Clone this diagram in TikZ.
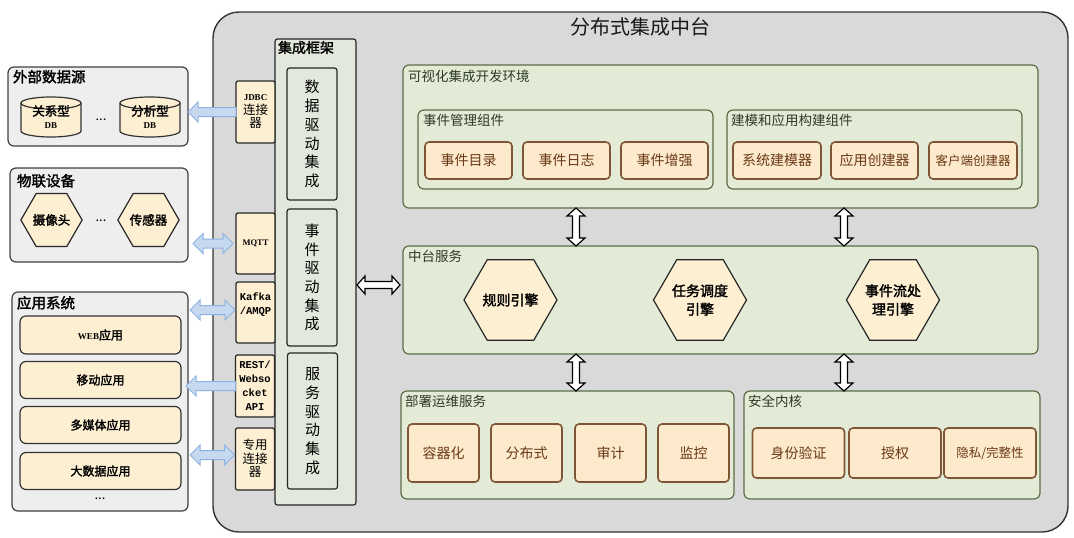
\documentclass[tikz,border=0pt]{standalone}
\usepackage{fontspec}
\setmainfont{Noto Sans CJK SC}[AutoFakeBold=2]
\newfontfamily\monof{Liberation Mono}
\newfontfamily\seriff{Liberation Serif}
\usetikzlibrary{shapes.geometric,calc}

\definecolor{mainbg}{HTML}{D9D9D9}
\definecolor{grpbg}{HTML}{EEEEEE}
\definecolor{framebg}{HTML}{E3E8DC}
\definecolor{greenbg}{HTML}{E3EBD7}
\definecolor{greenln}{HTML}{5B6E48}
\definecolor{greentx}{HTML}{2E3B22}
\definecolor{tanbg}{HTML}{FDEFD2}
\definecolor{peachbg}{HTML}{FDE9CB}
\definecolor{brownln}{HTML}{7E5636}
\definecolor{browntx}{HTML}{6A3A18}
\definecolor{bluebg}{HTML}{C6D9F0}
\definecolor{blueln}{HTML}{8DB3E2}

% block arrow: #1 style, #2 from, #3 to, #4 = 1 double / 0 single (head at #3)
\newcommand\barrow[4]{%
  \path let \p1=(#2), \p2=(#3) in \pgfextra{%
    \pgfmathsetmacro\barlen{veclen(\x2-\x1,\y2-\y1)}%
    \pgfmathsetmacro\barang{atan2(\y2-\y1,\x2-\x1)}%
    \xdef\barlen{\barlen}\xdef\barang{\barang}%
    \xdef\barx{\x1}\xdef\bary{\y1}};
  \ifnum#4=1
    \draw[#1, shift={(\barx,\bary)}, rotate=\barang]
      (0pt,0pt) -- (\arrhl pt,\arrhw pt) -- (\arrhl pt,\arrsh pt)
      -- (\barlen pt-\arrhl pt,\arrsh pt) -- (\barlen pt-\arrhl pt,\arrhw pt)
      -- (\barlen pt,0pt) -- (\barlen pt-\arrhl pt,-\arrhw pt)
      -- (\barlen pt-\arrhl pt,-\arrsh pt) -- (\arrhl pt,-\arrsh pt)
      -- (\arrhl pt,-\arrhw pt) -- cycle;
  \else
    \draw[#1, shift={(\barx,\bary)}, rotate=\barang]
      (0pt,\arrsh pt) -- (\barlen pt-\arrhl pt,\arrsh pt)
      -- (\barlen pt-\arrhl pt,\arrhw pt) -- (\barlen pt,0pt)
      -- (\barlen pt-\arrhl pt,-\arrhw pt) -- (\barlen pt-\arrhl pt,-\arrsh pt)
      -- (0pt,-\arrsh pt) -- cycle;
  \fi}

\tikzset{
  mainbox/.style={draw=black!80, fill=mainbg, line width=1.4pt, rounded corners=26pt},
  grpbox/.style={draw=black!75, fill=grpbg, line width=1.2pt, rounded corners=6pt},
  framebox/.style={draw=black!85, fill=framebg, line width=1.2pt, rounded corners=2.5pt},
  connbox/.style={draw=black!85, fill=tanbg, line width=1.2pt, rounded corners=2pt},
  tanbox/.style={draw=black!80, fill=tanbg, line width=1.2pt, rounded corners=6pt,
     font=\bfseries\fontsize{12}{14}\selectfont},
  greenbox/.style={draw=greenln, fill=greenbg, line width=1.2pt, rounded corners=6pt},
  peach/.style={draw=brownln, fill=peachbg, line width=1.6pt, rounded corners=4pt,
     text=browntx, font=\fontsize{14}{16}\selectfont},
  hexa/.style={regular polygon, regular polygon sides=6, draw=black!85, fill=tanbg,
     line width=1.2pt, align=center},
  bluearr/.style={draw=blueln, fill=bluebg, line width=1pt},
  whitearr/.style={draw=black, fill=white, line width=1.2pt},
  grplabel/.style={anchor=north west, font=\bfseries\fontsize{14.5}{16}\selectfont},
  innerlabel/.style={anchor=north west, text=greentx, font=\fontsize{13.5}{15}\selectfont},
  vtext/.style={align=center, font=\fontsize{15}{18.7}\selectfont},
  conntext/.style={align=center, font=\fontsize{12.5}{13.5}\selectfont},
  monotext/.style={align=center, font=\monof\bfseries\fontsize{10.5}{14}\selectfont},
  dotstext/.style={font=\fontsize{13}{14}\selectfont},
}

\begin{document}
\begin{tikzpicture}[x=1pt, y=-1pt, every node/.style={inner sep=0pt, outer sep=0pt}]
\useasboundingbox (0,0) rectangle (1074,538);

% main platform
\node[mainbox, minimum width=855pt, minimum height=520pt] (main) at (640.5,272) {};
\node[font=\fontsize{20}{24}\selectfont, text=black!90] (title) at (640,27) {分布式集成中台};

% integration framework
\node[framebox, minimum width=81pt, minimum height=466pt] (frame) at (315.5,272) {};
\node[grplabel, font=\bfseries\fontsize{14}{16}\selectfont] (framelbl) at (278,41) {集成框架};
\node[framebox, vtext, minimum width=50pt, minimum height=132pt] (dd1) at (312,134) {数\\据\\驱\\动\\集\\成};
\node[framebox, vtext, minimum width=50pt, minimum height=137pt] (dd2) at (312,277.5) {事\\件\\驱\\动\\集\\成};
\node[framebox, vtext, minimum width=50pt, minimum height=136pt] (dd3) at (312.5,421) {服\\务\\驱\\动\\集\\成};

% left groups
\node[grpbox, minimum width=180pt, minimum height=79pt] (ext) at (98,106.5) {};
\node[grplabel] (extlbl) at (13,70) {外部数据源};
\foreach \cx/\nm/\tx in {51/cylA/关系型, 150/cylB/分析型}{
  \draw[draw=black!80, fill=tanbg, line width=1.2pt]
    (\cx-30,103) -- (\cx-30,131)
    arc[start angle=180, end angle=360, x radius=30pt, y radius=6pt]
    -- (\cx+30,103)
    arc[start angle=0, end angle=180, x radius=30pt, y radius=6pt] -- cycle;
  \draw[draw=black!80, line width=1.2pt] (\cx-30,103)
    arc[start angle=180, end angle=360, x radius=30pt, y radius=6pt];
  \node[align=center, font=\bfseries\fontsize{12.5}{14}\selectfont] (\nm) at (\cx,117)
    {\tx\\[-1pt]{\seriff\bfseries\fontsize{9}{10}\selectfont DB}};
}
\node[dotstext] (dotsA) at (101,120) {...};

\node[grpbox, minimum width=178pt, minimum height=94pt] (iot) at (99,215) {};
\node[grplabel] (iotlbl) at (17,174) {物联设备};
\node[hexa, minimum size=52pt, font=\bfseries\fontsize{12.5}{14}\selectfont] (cam) at (51.5,220) {摄像头};
\node[hexa, minimum size=52pt, font=\bfseries\fontsize{12.5}{14}\selectfont] (sensor) at (148.5,220) {传感器};
\node[dotstext] (dotsB) at (101,221) {...};

\node[grpbox, minimum width=176pt, minimum height=219pt] (apps) at (100,401.5) {};
\node[grplabel] (appslbl) at (17,296) {应用系统};
\node[tanbox, minimum width=161pt, minimum height=38pt] (web) at (100.5,335) {{\seriff\bfseries\fontsize{9}{10}\selectfont WEB}应用};
\node[tanbox, minimum width=161pt, minimum height=37pt] (mobile) at (100.5,380) {移动应用};
\node[tanbox, minimum width=161pt, minimum height=37pt] (media) at (100.5,425) {多媒体应用};
\node[tanbox, minimum width=161pt, minimum height=37pt] (bigdata) at (100.5,471) {大数据应用};
\node[dotstext] (dotsC) at (100,499) {...};

% connector boxes
\node[connbox, minimum width=39pt, minimum height=62pt] (jdbc) at (255.5,112) {};
\node[conntext] (jdbct) at (255.5,112) {{\seriff\bfseries\fontsize{9}{11}\selectfont JDBC}\\连接\\器};
\node[connbox, minimum width=39pt, minimum height=61pt] (mqtt) at (255.5,243.5) {};
\node[font=\seriff\bfseries\fontsize{8.5}{10}\selectfont] (mqttt) at (255.5,243.5) {MQTT};
\node[connbox, minimum width=39pt, minimum height=61pt] (kafka) at (255.5,312.5) {};
\node[monotext] (kafkat) at (255.5,305) {Kafka\\/AMQP};
\node[connbox, minimum width=39pt, minimum height=62pt] (rest) at (255,386) {};
\node[monotext] (restt) at (255,386) {REST/\\Webso\\cket\\API};
\node[connbox, minimum width=39pt, minimum height=62pt] (zy) at (255,459) {};
\node[conntext] (zyt) at (255,458.5) {专用\\连接\\器};

% blue arrows
\def\arrsh{4.5}\def\arrhw{10}\def\arrhl{10}
\barrow{bluearr}{jdbc.west}{jdbc.west-|ext.east}{0}
\barrow{bluearr}{$(mqtt.west)+(-3,0)$}{$(mqtt.west-|iot.east)+(5,0)$}{1}
\barrow{bluearr}{$(kafka.west)+(-1,-2.5)$}{$(kafka.west-|apps.east)+(2,-2.5)$}{1}
\barrow{bluearr}{rest.west}{$(rest.west-|apps.east)+(-2,0)$}{0}
\barrow{bluearr}{$(zy.west)+(-1,-4)$}{$(zy.west-|apps.east)+(2,-4)$}{1}

% right side: visual integration environment
\node[greenbox, minimum width=635pt, minimum height=143pt] (vis) at (720.5,136.5) {};
\node[innerlabel] (vislbl) at (408,70) {可视化集成开发环境};
\node[greenbox, minimum width=295pt, minimum height=79pt] (evt) at (565.5,149.5) {};
\node[innerlabel] (evtlbl) at (423,114) {事件管理组件};
\node[peach, minimum width=87pt, minimum height=37pt] (c1) at (468.5,160.5) {事件目录};
\node[peach, minimum width=87pt, minimum height=37pt] (c2) at (566.5,160.5) {事件日志};
\node[peach, minimum width=87pt, minimum height=37pt] (c3) at (664.5,160.5) {事件增强};
\node[greenbox, minimum width=295pt, minimum height=79pt] (model) at (874.5,149.5) {};
\node[innerlabel] (modellbl) at (731,114) {建模和应用构建组件};
\node[peach, minimum width=88pt, minimum height=37pt] (m1) at (777,160.5) {系统建模器};
\node[peach, minimum width=87pt, minimum height=37pt] (m2) at (874.5,160.5) {应用创建器};
\node[peach, minimum width=88pt, minimum height=37pt, font=\fontsize{12.5}{14}\selectfont] (m3) at (973,160.5) {客户端创建器};

% middle services
\node[greenbox, minimum width=635pt, minimum height=108pt] (mid) at (720.5,300) {};
\node[innerlabel] (midlbl) at (408,250) {中台服务};
\node[hexa, minimum size=93pt, font=\bfseries\fontsize{14}{18.5}\selectfont] (rule) at (510.5,300) {规则引擎};
\node[hexa, minimum size=93pt, font=\bfseries\fontsize{14}{18.5}\selectfont] (task) at (700,300) {任务调度\\引擎};
\node[hexa, minimum size=93pt, font=\bfseries\fontsize{14}{18.5}\selectfont] (stream) at (893,300) {事件流处\\理引擎};

% deployment / operations
\node[greenbox, minimum width=333pt, minimum height=108pt] (deploy) at (567.5,445) {};
\node[innerlabel] (deploylbl) at (405,395) {部署运维服务};
\node[peach, minimum width=71pt, minimum height=58pt] (dp1) at (443.5,453) {容器化};
\node[peach, minimum width=71pt, minimum height=58pt] (dp2) at (526.5,453) {分布式};
\node[peach, minimum width=71pt, minimum height=58pt] (dp3) at (610.5,453) {审计};
\node[peach, minimum width=71pt, minimum height=58pt] (dp4) at (693.5,453) {监控};

% security kernel
\node[greenbox, minimum width=296pt, minimum height=108pt] (sec) at (892,445) {};
\node[innerlabel] (seclbl) at (748,395) {安全内核};
\node[peach, minimum width=92pt, minimum height=50pt] (s1) at (798.5,453) {身份验证};
\node[peach, minimum width=92pt, minimum height=50pt] (s2) at (895,453) {授权};
\node[peach, minimum width=92pt, minimum height=50pt, font=\fontsize{12.5}{14}\selectfont] (s3) at (990,453) {隐私/完整性};

% white arrows
\def\arrsh{3.5}\def\arrhw{9}\def\arrhl{8}
\coordinate (hy) at (0,285);
\coordinate (ax1) at (576,0);
\coordinate (ax2) at (844,0);
\barrow{whitearr}{$(frame.east|-hy)+(1,0)$}{$(mid.west|-hy)+(-3,0)$}{1}
\barrow{whitearr}{vis.south-|ax1}{mid.north-|ax1}{1}
\barrow{whitearr}{vis.south-|ax2}{mid.north-|ax2}{1}
\barrow{whitearr}{mid.south-|ax1}{deploy.north-|ax1}{1}
\barrow{whitearr}{mid.south-|ax2}{sec.north-|ax2}{1}
\end{tikzpicture}
\end{document}
